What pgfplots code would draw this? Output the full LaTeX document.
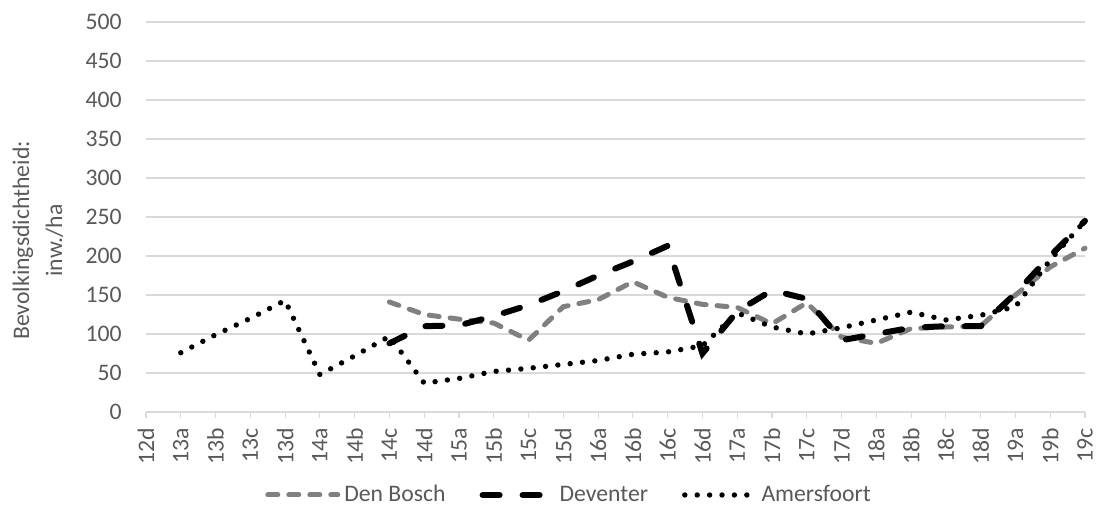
\documentclass[border=0pt]{standalone}
\usepackage{pgfplots}
\pgfplotsset{compat=1.18}
\usepackage{fontspec}
\setmainfont{Carlito}
\definecolor{txt}{HTML}{595959}
\definecolor{gridc}{HTML}{D9D9D9}
\definecolor{dbgray}{HTML}{808080}
\newcommand{\fs}{\fontsize{11.85}{14}\selectfont}

\pgfplotstableread{
x y
7 141
8 125
9 119
10 114
11 92
12 135
13 144
14 167
15 147
16 138
17 134
18 113
19 140
20 96
21 88
22 107
23 109
24 110
25 150
26 186
27 210
}\denbosch

\pgfplotstableread{
x y
7 88
8 110
9 111
10 123
11 137
12 155
13 175
14 193
15 213
16 75
17 129
18 156
19 145
20 92
21 100
22 108
23 110
24 110
25 152
26 200
27 245
}\deventer

\pgfplotstableread{
x y
1 76
2 99
3 120
4 143
5 48
6 72
7 97
8 37
9 43
10 52
11 56
12 61
13 66
14 74
15 77
16 85
17 127
18 109
19 100
20 108
21 118
22 128
23 118
24 124
25 135
26 195
27 245
}\amersfoort

\begin{document}
\begin{tikzpicture}
\path[use as bounding box] (-73pt,-55pt) rectangle (475pt,206pt);
\begin{axis}[
  scale only axis, width=469.5pt, height=195pt,
  at={(0,0)}, anchor=south west,
  clip=false,
  xmin=0, xmax=27, ymin=0, ymax=500,
  xtick={0,...,27},
  xticklabels={12d,13a,13b,13c,13d,14a,14b,14c,14d,15a,15b,15c,15d,16a,16b,16c,16d,17a,17b,17c,17d,18a,18b,18c,18d,19a,19b,19c},
  ytick={0,50,...,500},
  axis lines*=left,
  y axis line style={draw=none},
  x axis line style={draw=gridc, line width=0.6pt},
  tick align=outside,
  major tick length=3pt,
  xtick style={draw=gridc, line width=0.6pt},
  ytick style={draw=none},
  ymajorgrids,
  grid style={draw=gridc, line width=0.6pt},
  /pgf/number format/assume math mode=true,
  ticklabel style={font=\fs, text=txt, inner sep=0pt},
  xticklabel style={rotate=90, anchor=east},
  xticklabel shift=5pt,
  yticklabel style={anchor=east},
  yticklabel shift=9pt,
  ylabel={Bevolkingsdichtheid:\\inw./ha},
  ylabel style={at={(axis description cs:-0.115,0.44)}, anchor=center, align=center, font=\fontsize{11.85}{16.5}\selectfont, text=txt},
  legend columns=3,
  legend style={at={(axis description cs:0.4516,0)}, anchor=center, yshift=-41.5pt, draw=none, fill=none, font=\fs, text=txt,
    /tikz/every even column/.append style={column sep=15pt}, inner sep=0pt},
  legend cell align=left,
  legend image code/.code={\draw[#1] (0pt,0pt) -- (35pt,0pt);},
]
\addplot[dbgray, line width=2.5pt, line cap=round, dash pattern=on 5pt off 5.5pt] table[x=x,y=y] {\denbosch};
\addlegendentry{Den Bosch}
\addplot[black, line width=3pt, line cap=round, dash pattern=on 8.5pt off 11.5pt] table[x=x,y=y] {\deventer};
\addlegendentry{Deventer}
\addplot[black, line width=2.7pt, line cap=round, dash pattern=on 0pt off 6.2pt] table[x=x,y=y] {\amersfoort};
\addlegendentry{Amersfoort}
\end{axis}
\end{tikzpicture}
\end{document}
